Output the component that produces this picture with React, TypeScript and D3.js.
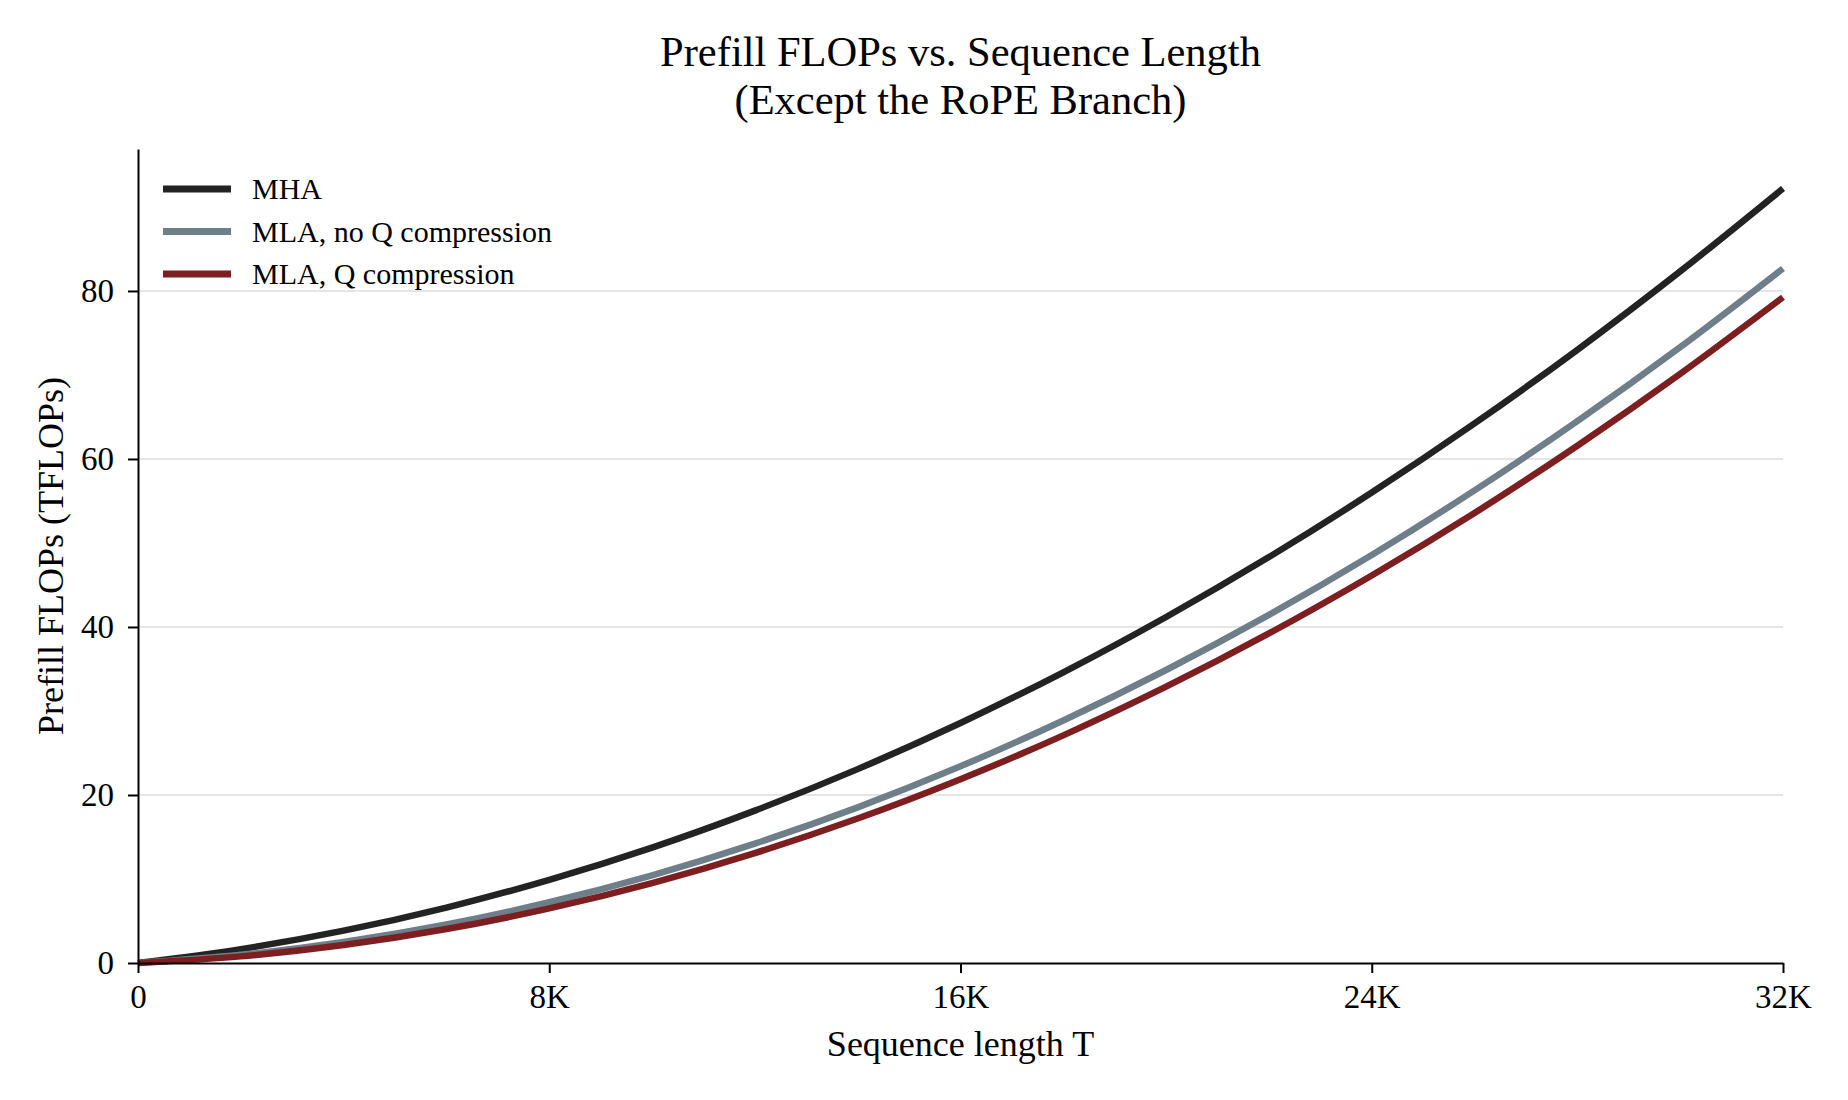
import React, { useEffect, useRef } from 'react';
import * as d3 from 'd3';

const seqLengths = [0, 2048, 4096, 6144, 8192, 10240, 12288, 14336, 16384, 18432, 20480, 22528, 24576, 26624, 28672, 30720, 32768];

// prefill TFLOPs
const mhaFlops = [0, 1.65, 3.85, 6.6, 9.9, 13.74, 18.14, 23.08, 28.57, 34.6, 41.19, 48.32, 56.0, 64.23, 73.0, 82.33, 92.2];
const mlaNoQFlops = [0, 0.97, 2.5, 4.58, 7.23, 10.44, 14.21, 18.53, 23.42, 28.87, 34.88, 41.44, 48.57, 56.26, 64.51, 73.31, 82.68];
const mlaQFlops = [0, 0.79, 2.14, 4.04, 6.5, 9.51, 13.08, 17.2, 21.88, 27.1, 32.89, 39.23, 46.13, 53.57, 61.58, 70.13, 79.25];

const seriesNames = ['MHA', 'MLA, no Q compression', 'MLA, Q compression'];
const seriesColors = ['#232323', '#6f7f8a', '#7d1f20'];

const xTickValues = [0, 8192, 16384, 24576, 32768];
const xTickLabels = ['0', '8K', '16K', '24K', '32K'];
const yTickValues = [0, 20, 40, 60, 80];
const yMax = 96.9;

const FONT = '"Times New Roman", "Liberation Serif", serif';

const App: React.FC = () => {
    const svgRef = useRef<SVGSVGElement | null>(null);

    useEffect(() => {
        const width = 1848;
        const height = 1100;
        const margin = { top: 149, right: 65, bottom: 137, left: 138 };

        const svg = d3.select(svgRef.current);
        svg.selectAll('*').remove();
        svg.attr('width', width).attr('height', height);

        const xScale = d3.scaleLinear()
            .domain([0, 32768])
            .range([margin.left, width - margin.right]);

        const yScale = d3.scaleLinear()
            .domain([0, yMax])
            .range([height - margin.bottom, margin.top]);

        // horizontal grid
        svg.append('g')
            .selectAll('line')
            .data(yTickValues.filter(v => v > 0))
            .join('line')
            .attr('x1', xScale(0))
            .attr('x2', xScale(32768))
            .attr('y1', d => yScale(d))
            .attr('y2', d => yScale(d))
            .attr('stroke', '#dcdcdc')
            .attr('stroke-width', 1.6);

        const series = [mhaFlops, mlaNoQFlops, mlaQFlops];

        const line = d3.line<number>()
            .x((d, i) => xScale(seqLengths[i]))
            .y(d => yScale(d))
            .curve(d3.curveMonotoneX);

        svg.append('g')
            .selectAll('path')
            .data(series)
            .join('path')
            .attr('d', d => line(d))
            .attr('fill', 'none')
            .attr('stroke', (d, i) => seriesColors[i])
            .attr('stroke-width', 6.5);

        // axes
        const xAxis = svg.append('g')
            .attr('transform', `translate(0,${yScale(0)})`)
            .call(d3.axisBottom(xScale)
                .tickValues(xTickValues)
                .tickFormat((d, i) => xTickLabels[i])
                .tickSize(10)
                .tickSizeOuter(0)
                .tickPadding(12));

        const yAxis = svg.append('g')
            .attr('transform', `translate(${xScale(0)},0)`)
            .call(d3.axisLeft(yScale)
                .tickValues(yTickValues)
                .tickFormat(d3.format('d'))
                .tickSize(10)
                .tickSizeOuter(0)
                .tickPadding(14));

        [xAxis, yAxis].forEach(ax => {
            ax.select('.domain').attr('stroke', '#000').attr('stroke-width', 2);
            ax.selectAll('.tick line').attr('stroke', '#000').attr('stroke-width', 2);
            ax.selectAll('.tick text')
                .attr('fill', '#000')
                .style('font-family', FONT)
                .style('font-size', '33px');
        });

        // titles (two separate lines)
        const titleX = (xScale(0) + xScale(32768)) / 2;
        svg.append('text')
            .attr('x', titleX)
            .attr('y', 66)
            .attr('text-anchor', 'middle')
            .style('font-family', FONT)
            .style('font-size', '42.5px')
            .attr('fill', '#000')
            .text('Prefill FLOPs vs. Sequence Length');
        svg.append('text')
            .attr('x', titleX)
            .attr('y', 114)
            .attr('text-anchor', 'middle')
            .style('font-family', FONT)
            .style('font-size', '42.5px')
            .attr('fill', '#000')
            .text('(Except the RoPE Branch)');

        svg.append('text')
            .attr('x', titleX)
            .attr('y', 1056)
            .attr('text-anchor', 'middle')
            .style('font-family', FONT)
            .style('font-size', '36px')
            .attr('fill', '#000')
            .text('Sequence length T');

        svg.append('text')
            .attr('transform', `translate(63,${(yScale(0) + yScale(yMax)) / 2}) rotate(-90)`)
            .attr('text-anchor', 'middle')
            .style('font-family', FONT)
            .style('font-size', '36px')
            .attr('fill', '#000')
            .text('Prefill FLOPs (TFLOPs)');

        // legend
        const legend = svg.append('g');
        seriesNames.forEach((name, i) => {
            const ly = 189 + i * 42.5;
            legend.append('line')
                .attr('x1', 163)
                .attr('x2', 231)
                .attr('y1', ly)
                .attr('y2', ly)
                .attr('stroke', seriesColors[i])
                .attr('stroke-width', 7);
            legend.append('text')
                .attr('x', 252)
                .attr('y', ly + 10)
                .style('font-family', FONT)
                .style('font-size', '30px')
                .attr('fill', '#000')
                .text(name);
        });
    }, []);

    return (
        <svg ref={svgRef} style={{ position: 'absolute', left: 0, top: 0, background: '#fff' }} />
    );
};

export default App;
